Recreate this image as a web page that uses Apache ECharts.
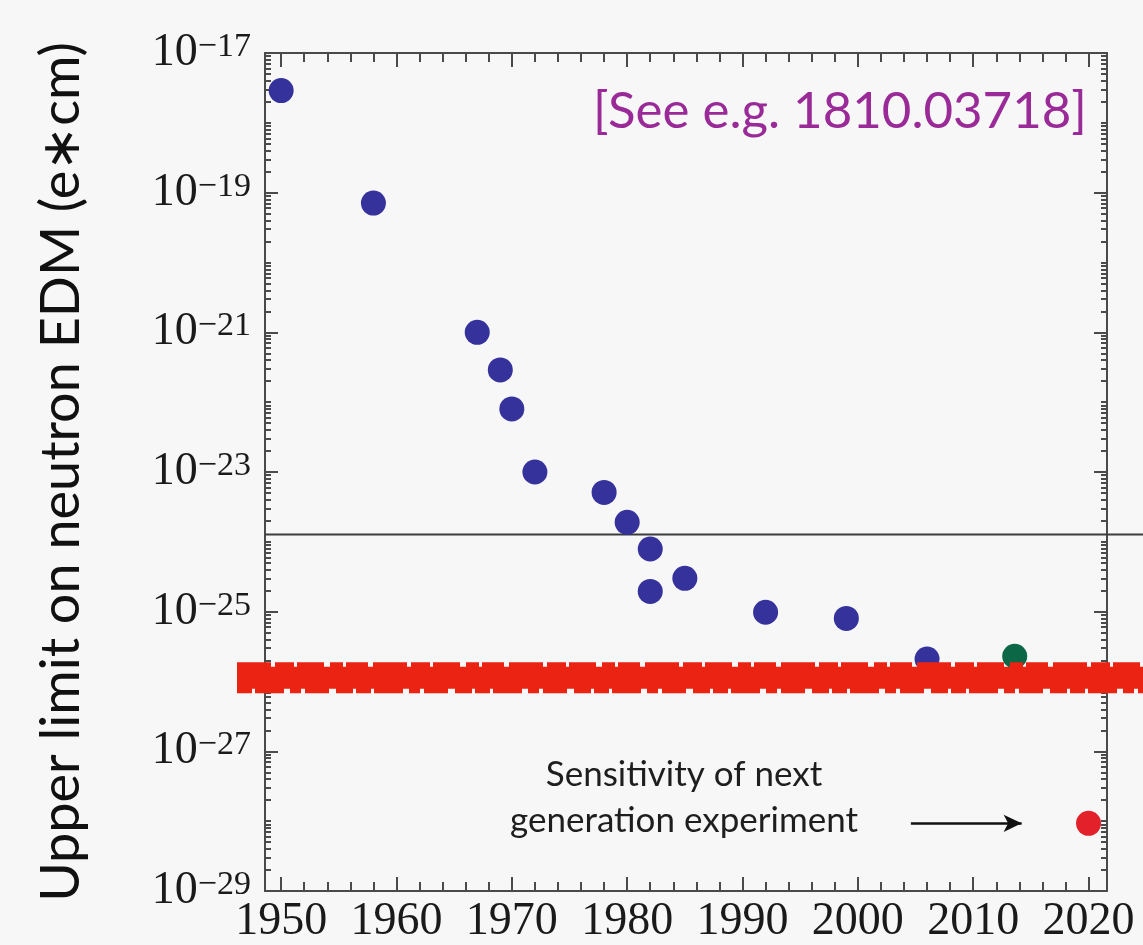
<!DOCTYPE html>
<html>
<head>
<meta charset="utf-8">
<script src="https://cdn.jsdelivr.net/npm/echarts@6/dist/echarts.min.js"></script>
<style>
  html, body { margin: 0; padding: 0; background: #f7f7f7; }
  #chart { width: 1143px; height: 945px; }
</style>
</head>
<body>
<div id="chart"></div>
<script>
// Upper limits on the neutron electric dipole moment (e*cm) by year of publication
const years  = [1950, 1958, 1967, 1969, 1970, 1972, 1978, 1980, 1982, 1982, 1985, 1992, 1999, 2006];
const limits = [2.9e-18, 7.1e-20, 1.0e-21, 2.9e-22, 8.0e-23, 1.0e-23, 5.1e-24, 1.9e-24, 7.9e-25, 1.95e-25, 3.0e-25, 9.8e-26, 8.0e-26, 2.1e-26];

// Most recent measurement
const latestYears  = [2013.6];
const latestLimits = [2.3e-26];

// Projected sensitivity of the next generation experiment
const nextYears  = [2020];
const nextLimits = [9.3e-29];

// Arrow pointing at the projected sensitivity (years along the arrow)
const arrowYears = [2004.6, 2014.2];

// Horizontal reference levels
const referenceLevel = 1.42e-24;
const strikeLevel    = 1.31e-26;
const strikeEdges    = [1.97e-26, 0.87e-26];

// Axis ranges and tick labels
const yearMin = 1948.6, yearMax = 2021.6;
const yearLabels = [1950, 1960, 1970, 1980, 1990, 2000, 2010, 2020];
const expMin = -29, expMax = -17;
const expLabels = [-29, -27, -25, -23, -21, -19, -17];

// Plot box (pixels)
const W = 1143, H = 945;
const G = { left: 265, right: 36, top: 53, bottom: 48 };
const overlayLeft = 237;

const lg = Math.log10;

// Minor ticks: every two years, and log subdivisions of each decade
const yearMinor = [];
for (let y = 1950; y <= 2020; y += 2) if (y % 10 !== 0) yearMinor.push(y);
const expMinor = [];
for (let n = expMin; n < expMax; n++) {
  if ((n - expMin) % 2 === 1) expMinor.push(n);
  for (let k = 2; k <= 9; k++) expMinor.push(n + lg(k));
}

// Overlay grid spans to the right edge of the page with the same year scale
const pxPerYear = (W - G.left - G.right) / (yearMax - yearMin);
const ovMin = yearMin - (G.left - overlayLeft) / pxPerYear;
const ovMax = yearMin + (W - G.left) / pxPerYear;

const frame = { show: true, lineStyle: { color: '#4a4a4a', width: 2 } };
const serif = '"Liberation Serif", "DejaVu Serif", serif';
const sans = 'Lato, "Open Sans", sans-serif';

function xAx(position, ticks, len, withLine, withLabels) {
  return {
    type: 'value', gridIndex: 0, position, min: yearMin, max: yearMax,
    axisLine: withLine ? Object.assign({ onZero: false }, frame) : { show: false, onZero: false },
    axisTick: { show: true, inside: true, length: len, customValues: ticks,
                lineStyle: { color: '#4a4a4a', width: 2 } },
    axisLabel: withLabels ? {
      show: true, customValues: ticks, margin: 8,
      formatter: v => '{y|' + Math.round(v) + '}',
      rich: { y: { fontFamily: serif, fontSize: 46, lineHeight: 46, color: '#1a1a1a' } }
    } : { show: false },
    splitLine: { show: false }
  };
}
function yAx(position, ticks, len, withLine, withLabels) {
  const ax = {
    type: 'value', gridIndex: 0, position, min: expMin, max: expMax,
    axisLine: withLine ? Object.assign({ onZero: false }, frame) : { show: false, onZero: false },
    axisTick: { show: true, inside: true, length: len, customValues: ticks,
                lineStyle: { color: '#4a4a4a', width: 2 } },
    axisLabel: { show: false },
    splitLine: { show: false }
  };
  if (withLabels) {
    ax.axisLabel = {
      show: true, customValues: ticks, margin: 14,
      formatter: v => '{b|10}{s|\u2212' + Math.abs(Math.round(v)) + '}',
      rich: {
        b: { fontFamily: serif, fontSize: 46, lineHeight: 46, color: '#1a1a1a',
             padding: [12, 0, 0, 0], verticalAlign: 'bottom' },
        s: { fontFamily: serif, fontSize: 34, lineHeight: 34, color: '#1a1a1a',
             verticalAlign: 'top' }
      }
    };
    ax.name = 'Upper limit on neutron EDM (e\u2217cm)';
    ax.nameLocation = 'middle';
    ax.nameRotate = 90;
    ax.nameGap = 176;
    ax.nameTextStyle = { fontFamily: sans, fontSize: 54, color: '#111' };
  }
  return ax;
}

const option = {
  backgroundColor: '#f7f7f7',
  animation: false,
  grid: [
    { left: G.left, right: G.right, top: G.top, bottom: G.bottom },
    { left: overlayLeft, right: 0, top: G.top, bottom: G.bottom }
  ],
  xAxis: [
    xAx('bottom', yearLabels, 14, true, true),
    xAx('bottom', yearMinor, 9, false, false),
    xAx('top', yearLabels, 14, true, false),
    xAx('top', yearMinor, 9, false, false),
    { type: 'value', gridIndex: 1, min: ovMin, max: ovMax, show: false }
  ],
  yAxis: [
    yAx('left', expLabels, 13, true, true),
    yAx('left', expMinor, 6, false, false),
    yAx('right', expLabels, 13, true, false),
    yAx('right', expMinor, 6, false, false),
    { type: 'value', gridIndex: 1, min: expMin, max: expMax, show: false }
  ],
  graphic: [
    {
      type: 'text', left: 593, top: 86, z: 50,
      style: { text: '[See e.g. 1810.03718]', fontFamily: sans, fontSize: 51,
               fill: '#9a2a98' }
    },
    {
      type: 'text', x: 684, y: 752, z: 50,
      style: { text: 'Sensitivity of next\ngeneration experiment', fontFamily: sans,
               fontSize: 35, lineHeight: 46, align: 'center', verticalAlign: 'top',
               fill: '#1e1e1e' }
    }
  ],
  series: [
    {
      type: 'scatter', xAxisIndex: 0, yAxisIndex: 0, symbolSize: 25, z: 3,
      itemStyle: { color: '#35329c', opacity: 1 },
      data: years.map((y, i) => [y, lg(limits[i])])
    },
    {
      type: 'scatter', xAxisIndex: 0, yAxisIndex: 0, symbolSize: 25, z: 3,
      itemStyle: { color: '#0c6746', opacity: 1 },
      data: latestYears.map((y, i) => [y, lg(latestLimits[i])])
    },
    {
      type: 'scatter', xAxisIndex: 0, yAxisIndex: 0, symbolSize: 25, z: 3,
      itemStyle: { color: '#e3212a', opacity: 1 },
      data: nextYears.map((y, i) => [y, lg(nextLimits[i])]),
      markLine: {
        silent: true, symbol: ['none', 'arrow'], symbolSize: [13, 18],
        label: { show: false },
        lineStyle: { color: '#111', width: 2.5, type: 'solid' },
        data: [[
          { coord: [arrowYears[0], lg(nextLimits[0])] },
          { coord: [arrowYears[1], lg(nextLimits[0])] }
        ]]
      }
    },
    {
      type: 'line', xAxisIndex: 4, yAxisIndex: 4, symbol: 'none', z: 2,
      lineStyle: { color: '#3c3c3c', width: 2 },
      data: [[yearMin, lg(referenceLevel)], [ovMax, lg(referenceLevel)]]
    },
    {
      type: 'line', xAxisIndex: 4, yAxisIndex: 4, symbol: 'none', z: 10,
      lineStyle: { color: '#ea2312', width: 22 },
      data: [[ovMin, lg(strikeLevel)], [ovMax, lg(strikeLevel)]]
    },
    {
      type: 'line', xAxisIndex: 4, yAxisIndex: 4, symbol: 'none', z: 10,
      lineStyle: { color: '#ea2312', width: 6, type: [34, 4, 19, 3, 27, 6, 13, 3, 22, 5] },
      data: [[ovMin, lg(strikeEdges[0])], [ovMax, lg(strikeEdges[0])]]
    },
    {
      type: 'line', xAxisIndex: 4, yAxisIndex: 4, symbol: 'none', z: 10,
      lineStyle: { color: '#ea2312', width: 6, type: [15, 3, 29, 6, 11, 4, 24, 7, 17, 3] },
      data: [[ovMin, lg(strikeEdges[1])], [ovMax, lg(strikeEdges[1])]]
    }
  ]
};

const chart = echarts.init(document.getElementById('chart'), null, { renderer: 'canvas' });
chart.setOption(option);
</script>
</body>
</html>
